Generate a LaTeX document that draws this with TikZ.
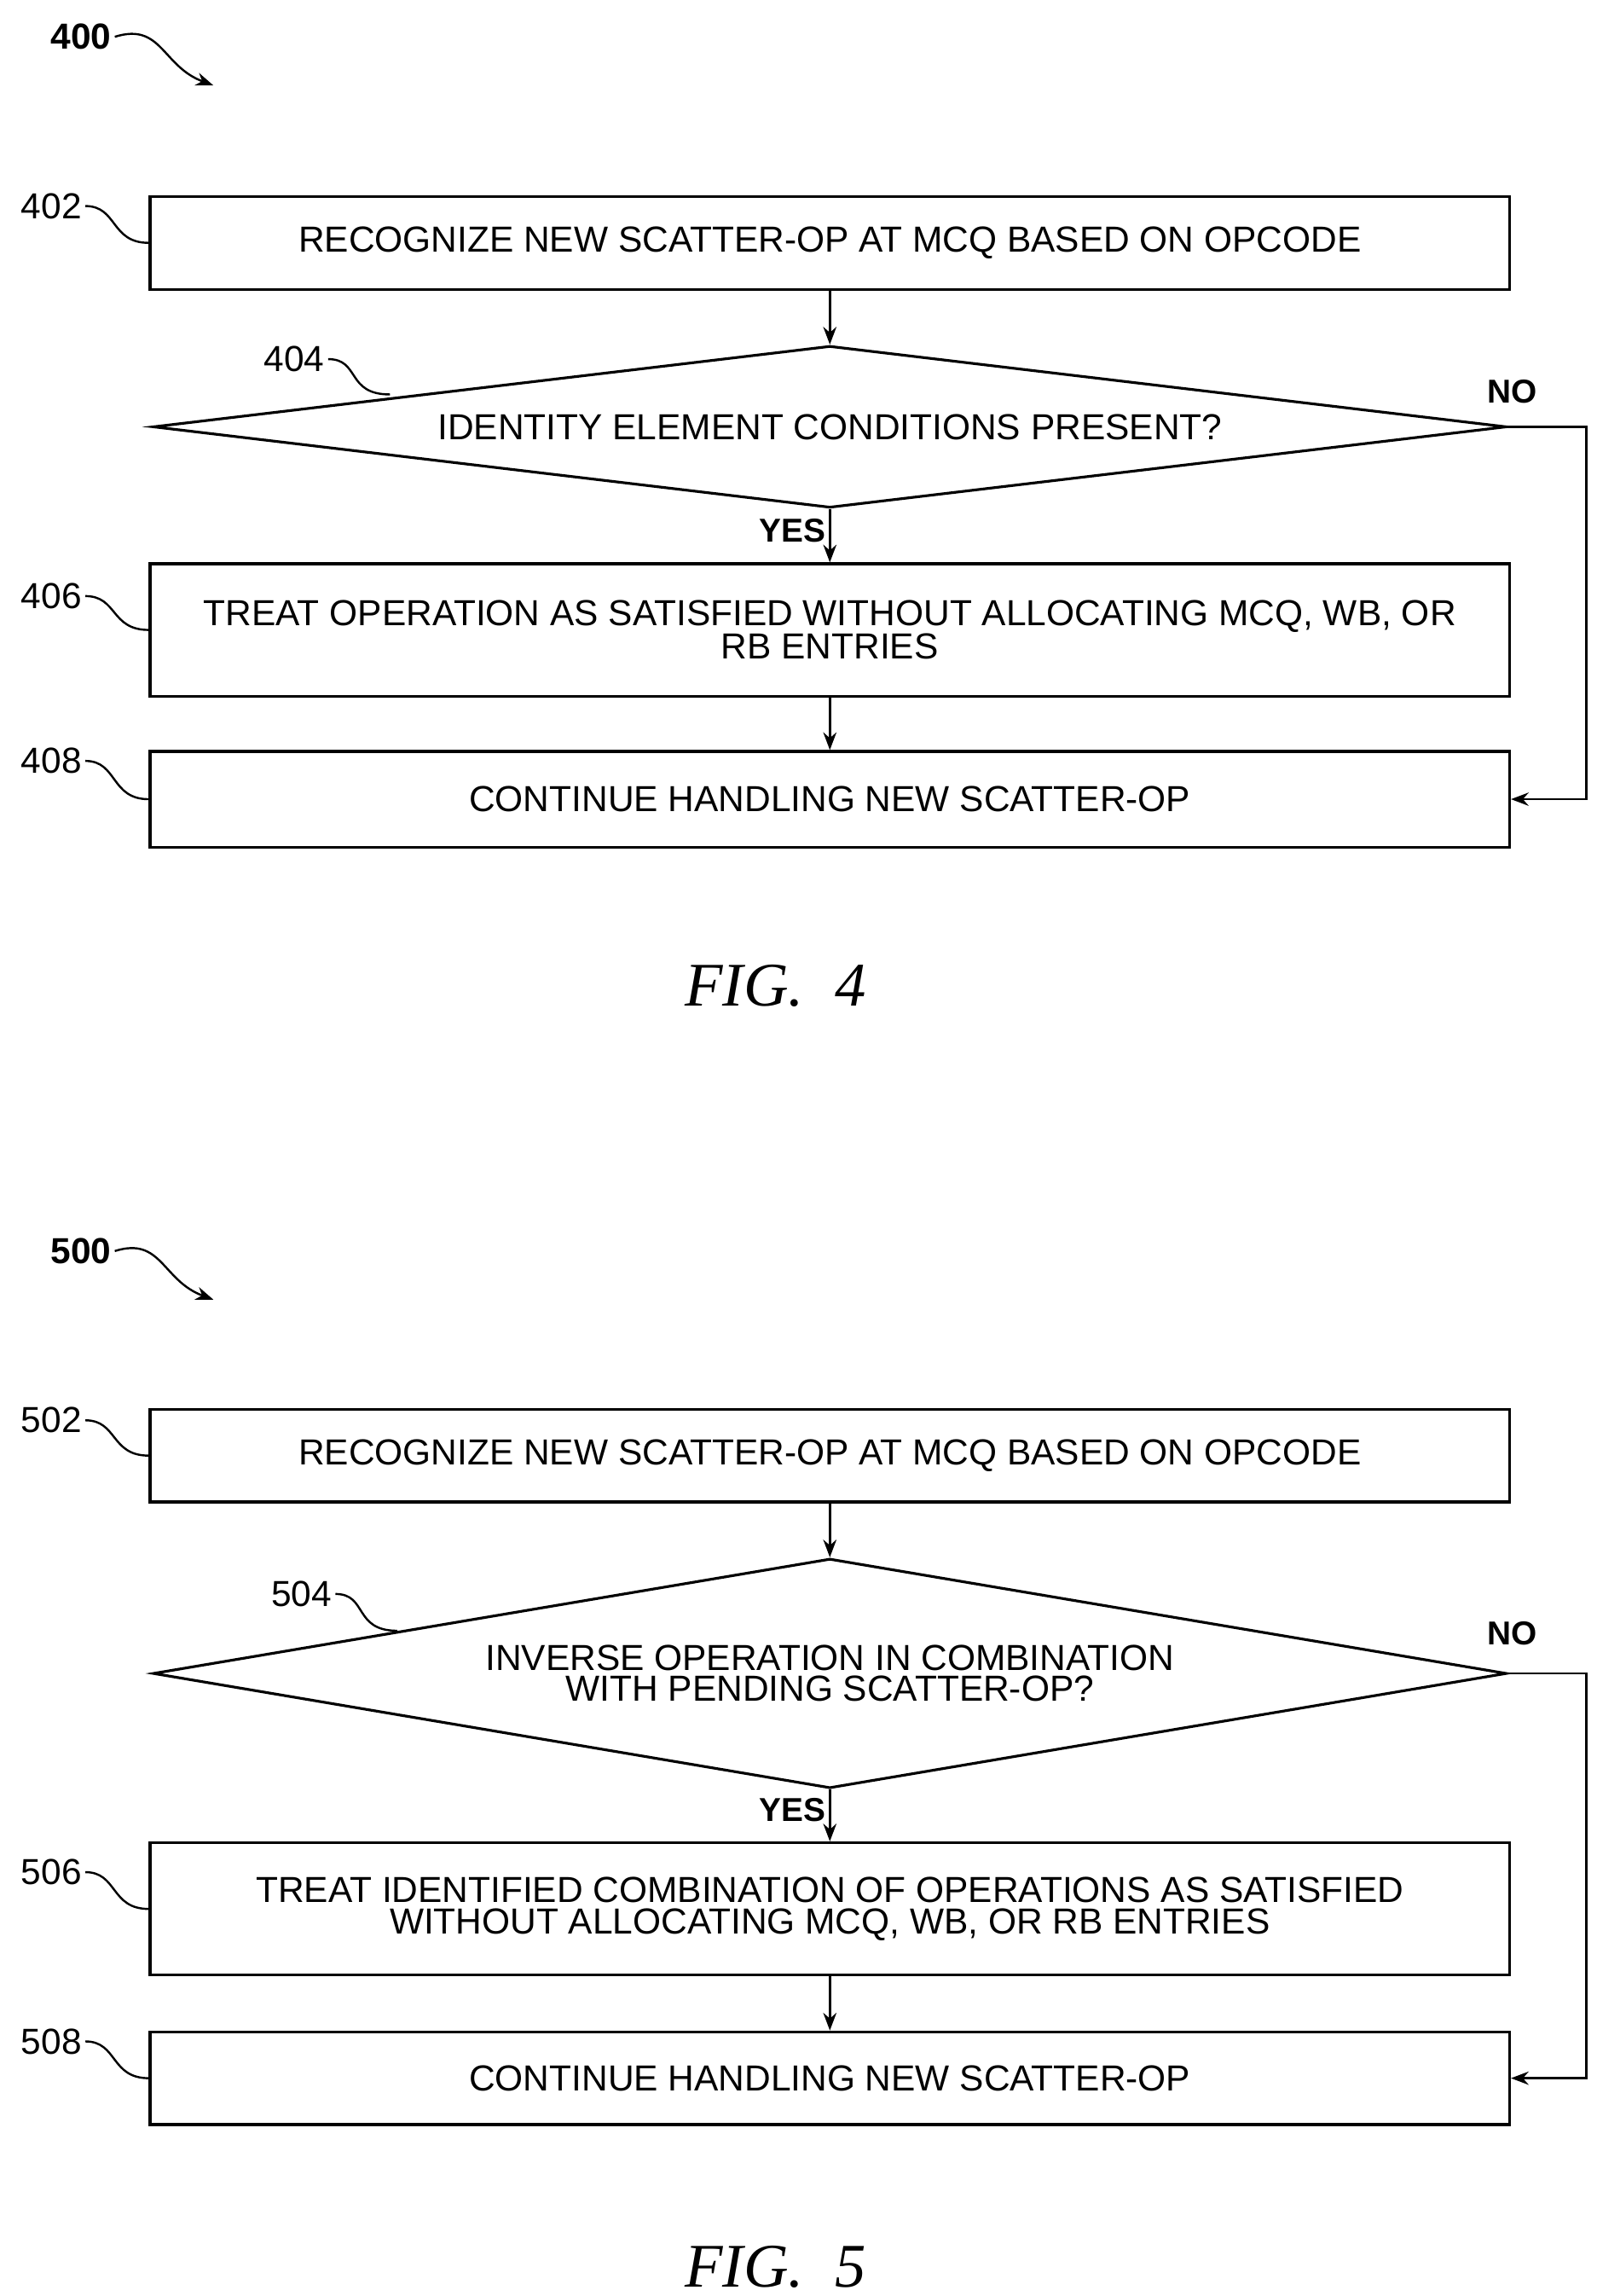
\documentclass[tikz,border=0pt]{standalone}
\usepackage{fontspec}
\setmainfont{Liberation Sans}
\newfontfamily\figfont{Liberation Serif}
\usetikzlibrary{shapes.geometric,arrows.meta}

\tikzset{
  procbox/.style={draw,line width=2.6pt,minimum width=462mm,align=center,
    font=\fontsize{35}{30}\selectfont},
  testbox/.style={draw,diamond,line width=2.6pt,inner sep=0pt,align=center,
    minimum width=460mm,font=\fontsize{35}{30}\selectfont},
  flow/.style={line width=2.2pt,-{Stealth[length=6mm,width=4.5mm]}},
  refnum/.style={font=\fontsize{35}{38}\selectfont},
  figname/.style={font=\fontsize{60}{64}\selectfont\figfont\itshape},
  lead/.style={line width=2pt}
}

\begin{document}
\begin{tikzpicture}[x=0.5mm,y=-0.5mm]
  \useasboundingbox (0,0) rectangle (1085,1560);

  % ---------- FIG. 4 ----------
  \node[refnum,font=\bfseries\fontsize{35}{38}\selectfont] (n400) at (55,25) {400};
  \draw[lead,-{Stealth[length=6mm]}] (n400.east) .. controls (110,15) and (110,45) .. (145,58);

  \node[procbox,minimum height=31.5mm] (s402) at (564,165) {RECOGNIZE NEW SCATTER-OP AT MCQ BASED ON OPCODE};
  \node[testbox,minimum height=55mm,aspect=8.4] (s404) at (564,290) {IDENTITY ELEMENT CONDITIONS PRESENT?};
  \node[procbox,minimum height=45mm] (s406) at (564,428) {TREAT OPERATION AS SATISFIED WITHOUT ALLOCATING MCQ, WB, OR\\RB ENTRIES};
  \node[procbox,minimum height=32.5mm] (s408) at (564,543) {CONTINUE HANDLING NEW SCATTER-OP};

  \draw[flow] (s402) -- (s404);
  \draw[flow] (s404) -- (s406) node[pos=0.4,left,font=\bfseries\fontsize{32}{34}\selectfont] {YES};
  \draw[flow] (s406) -- (s408);
  \coordinate (no4) at (1078,290);
  \draw[flow] (s404.east) -- (no4) |- (s408.east);
  \node[font=\bfseries\fontsize{32}{34}\selectfont] at (1028,266) {NO};

  % reference numerals
  \node[refnum] (n402) at (35,140) {402};
  \draw[lead] (n402.east) .. controls (80,140) and (75,165) .. (s402.west);
  \node[refnum] (n404) at (200,244) {404};
  \draw[lead] (n404.east) .. controls (245,244) and (235,268) .. (265,268);
  \node[refnum] (n406) at (35,405) {406};
  \draw[lead] (n406.east) .. controls (80,405) and (75,428) .. (s406.west);
  \node[refnum] (n408) at (35,517) {408};
  \draw[lead] (n408.east) .. controls (80,517) and (75,543) .. (s408.west);

  \node[figname] (f4) at (527,670) {FIG.\ \ 4};

  % ---------- FIG. 5 ----------
  \node[refnum,font=\bfseries\fontsize{35}{38}\selectfont] (n500) at (55,850) {500};
  \draw[lead,-{Stealth[length=6mm]}] (n500.east) .. controls (110,840) and (110,870) .. (145,883);

  \node[procbox,minimum height=31.5mm] (s502) at (564,989) {RECOGNIZE NEW SCATTER-OP AT MCQ BASED ON OPCODE};
  \node[testbox,minimum height=78mm,aspect=5.9] (s504) at (564,1137) {INVERSE OPERATION IN COMBINATION\\WITH PENDING SCATTER-OP?};
  \node[procbox,minimum height=45mm] (s506) at (564,1297) {TREAT IDENTIFIED COMBINATION OF OPERATIONS AS SATISFIED\\WITHOUT ALLOCATING MCQ, WB, OR RB ENTRIES};
  \node[procbox,minimum height=31.5mm] (s508) at (564,1412) {CONTINUE HANDLING NEW SCATTER-OP};

  \draw[flow] (s502) -- (s504);
  \draw[flow] (s504) -- (s506) node[pos=0.4,left,font=\bfseries\fontsize{32}{34}\selectfont] {YES};
  \draw[flow] (s506) -- (s508);
  \coordinate (no5) at (1078,1137);
  \draw[flow] (s504.east) -- (no5) |- (s508.east);
  \node[font=\bfseries\fontsize{32}{34}\selectfont] at (1028,1110) {NO};

  % reference numerals
  \node[refnum] (n502) at (35,965) {502};
  \draw[lead] (n502.east) .. controls (80,965) and (75,989) .. (s502.west);
  \node[refnum] (n504) at (205,1083) {504};
  \draw[lead] (n504.east) .. controls (250,1083) and (240,1108) .. (270,1108);
  \node[refnum] (n506) at (35,1272) {506};
  \draw[lead] (n506.east) .. controls (80,1272) and (75,1297) .. (s506.west);
  \node[refnum] (n508) at (35,1387) {508};
  \draw[lead] (n508.east) .. controls (80,1387) and (75,1412) .. (s508.west);

  \node[figname] (f5) at (527,1540) {FIG.\ \ 5};
\end{tikzpicture}
\end{document}
